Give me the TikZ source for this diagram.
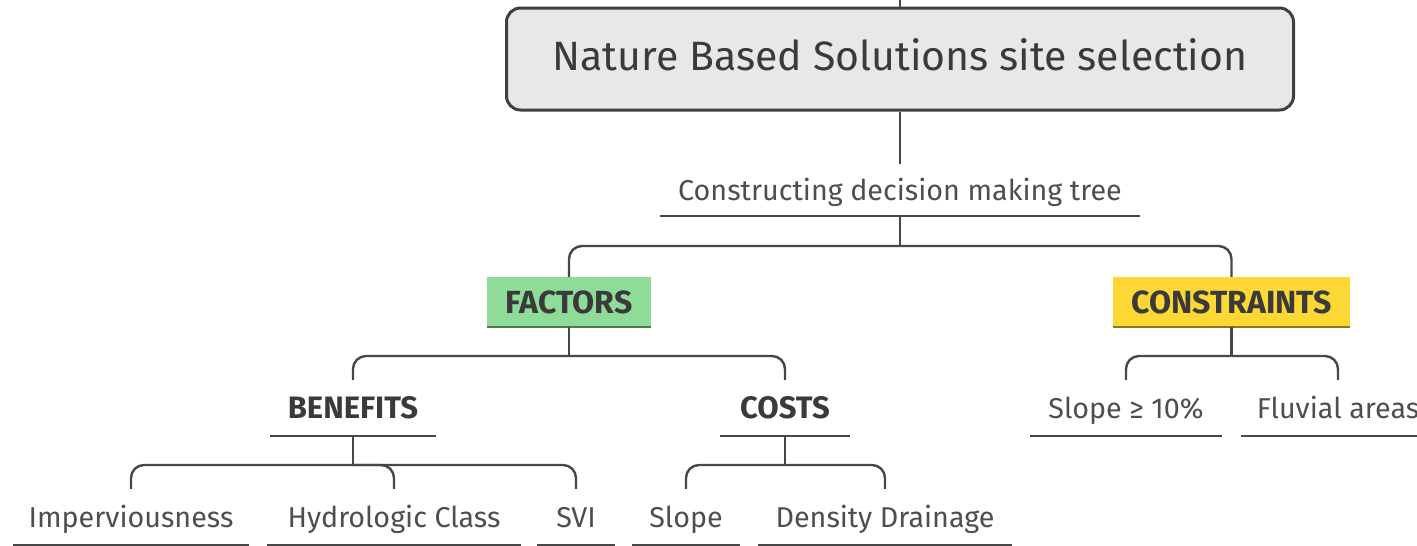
\documentclass[tikz,border=0pt]{standalone}
\usepackage{fontspec}
\setmainfont{Fira Sans}
\definecolor{linec}{HTML}{474747}
\definecolor{txtc}{HTML}{3A3A3A}
\definecolor{subc}{HTML}{4E4E4E}
\definecolor{titlefill}{HTML}{E8E8E8}
\definecolor{greenfill}{HTML}{8EDC98}
\definecolor{yellowfill}{HTML}{FDD835}
\tikzset{
  conn/.style={draw=linec,line width=2.4pt,rounded corners=13pt},
  titlebox/.style={draw=linec!90!black,line width=3pt,fill=titlefill,rounded corners=14pt,
    minimum width=787pt,minimum height=102pt,inner sep=0pt,text=txtc,
    text height=30pt,text depth=8pt,
    font=\fontsize{41}{46}\selectfont},
  topic/.style={inner sep=0pt,minimum height=56pt,text height=24pt,text depth=3pt,
    append after command={(\tikzlastnode.south west) edge[draw=linec,line width=2.4pt] (\tikzlastnode.south east)}},
  plain/.style={topic,text=subc,font=\fontsize{28.7}{33}\selectfont},
  capsl/.style={topic,text=txtc,font=\fontsize{31}{35}\selectfont\bfseries},
  tagbox/.style={inner sep=0pt,minimum height=50pt,text height=22pt,text depth=0pt,text=txtc,
    font=\fontsize{32}{36}\selectfont\bfseries},
}
\begin{document}
\begin{tikzpicture}[x=1pt,y=-1pt]
\useasboundingbox (0,0) rectangle (1417,546);
% title
\coordinate (top) at (900,0);
\node[titlebox] (title) at (900,59) {Nature Based Solutions site selection};
\draw[conn] (top) -- (title.north);
% level 1
\node[plain,minimum width=480pt,minimum height=52pt] (cdt) at (900,190) {Constructing decision making tree};
\draw[conn] (title.south) -- (cdt.north);
% level 2 tags
\node[tagbox,fill=greenfill,minimum width=164pt] (fac) at (569,302) {FACTORS};
\draw[greenfill!55!black,line width=2.5pt] (fac.south west) -- (fac.south east);
\node[tagbox,fill=yellowfill,minimum width=237pt] (con) at (1231.5,302) {CONSTRAINTS};
\draw[yellowfill!55!black,line width=2.5pt] (con.south west) -- (con.south east);
\coordinate (j1) at (900,246);
\draw[conn] (cdt.south) -- (j1);
\draw[conn] (j1) -| (fac.north);
\draw[conn] (j1) -| (con.north);
% level 3
\node[capsl,minimum width=166pt] (ben) at (353,408) {BENEFITS};
\node[capsl,minimum width=130pt] (cos) at (785,408) {COSTS};
\coordinate (j2) at (569,356);
\draw[conn] (fac.south) -- (j2);
\draw[conn] (j2) -| (ben.north);
\draw[conn] (j2) -| (cos.north);
\node[plain,minimum width=192pt] (slp10) at (1126,408) {Slope ≥ 10\%};
\node[plain,minimum width=194pt] (fluv) at (1338,408) {Fluvial areas};
\coordinate (j3) at (1231.5,356);
\draw[conn] (con.south) -- (j3);
\draw[conn] (j3) -| (slp10.north);
\draw[conn] (j3) -| (fluv.north);
% level 4
\node[plain,minimum width=236pt] (imp) at (131,517) {Imperviousness};
\node[plain,minimum width=254pt] (hyd) at (394,517) {Hydrologic Class};
\node[plain,minimum width=77pt] (svi) at (576,517) {SVI};
\coordinate (j4) at (353,465);
\draw[conn] (ben.south) -- (j4);
\draw[conn] (j4) -| (imp.north);
\draw[conn] (j4) -| (hyd.north);
\draw[conn] (j4) -| (svi.north);
\node[plain,minimum width=108pt] (slp) at (686,517) {Slope};
\node[plain,minimum width=254pt] (dd) at (885,517) {Density Drainage};
\coordinate (j5) at (785,465);
\draw[conn] (cos.south) -- (j5);
\draw[conn] (j5) -| (slp.north);
\draw[conn] (j5) -| (dd.north);
\end{tikzpicture}
\end{document}
